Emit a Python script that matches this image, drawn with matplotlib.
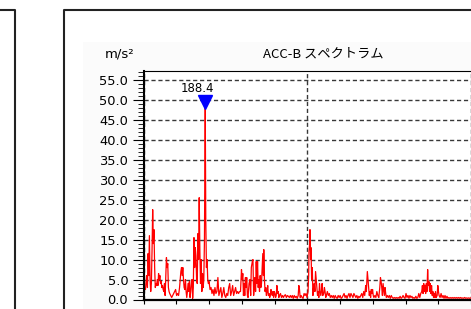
import matplotlib
matplotlib.use('agg')
import matplotlib.pyplot as plt
from matplotlib.ticker import MultipleLocator, FixedLocator
from matplotlib.lines import Line2D
from matplotlib.patches import Rectangle

# spectrum (Hz, m/s^2)
freq_hz = [0, 3, 6, 8, 10, 12, 14, 16, 18, 20, 22, 24, 26, 28, 30, 32, 34, 36, 38, 40,
           42, 44, 46, 48, 50, 52, 54, 56, 58, 60, 62, 64, 66, 68, 70, 72, 74, 76, 78, 80,
           83, 86, 89, 92, 95, 98, 101, 104, 107, 110, 112, 114, 116, 118, 120, 122, 124, 126, 128, 130,
           132, 134, 136, 138, 140, 142, 144, 146, 148, 150, 152, 154, 156, 158, 160, 162, 164, 166, 168, 170,
           172, 174, 176, 178, 180, 182, 184, 186, 188.4, 190, 192, 194, 196, 198, 200, 203, 206, 209, 212, 215,
           218, 221, 224, 227, 230, 233, 236, 239, 242, 245, 248, 251, 254, 257, 260, 263, 266, 269, 272, 275,
           278, 281, 284, 287, 290, 293, 296, 299, 301, 303, 305, 307, 309, 311, 313, 315, 317, 319, 322, 325,
           327, 329, 332, 334, 336, 338, 340, 342, 344, 346, 348, 350, 352, 354, 356, 358, 360, 362, 364, 366,
           367, 369, 371, 373, 375, 377, 379, 381, 383, 385, 387, 389, 391, 393, 395, 397, 399, 401, 403, 405,
           407, 409, 411, 413, 415, 418, 421, 424, 427, 430, 433, 436, 439, 442, 445, 448, 451, 454, 457, 460,
           463, 466, 469, 472, 474, 476, 478, 481, 484, 487, 490, 493, 496, 499, 502, 504, 505, 507, 508, 510,
           511, 513, 515, 517, 519, 521, 523, 525, 527, 529, 531, 533, 535, 537, 539, 541, 543, 545, 547, 550,
           552, 554, 556, 558, 561, 564, 567, 570, 573, 576, 579, 582, 585, 588, 591, 594, 597, 600, 603, 606,
           609, 612, 615, 618, 621, 624, 627, 630, 633, 636, 639, 642, 645, 648, 651, 654, 657, 660, 663, 666,
           669, 672, 675, 678, 680, 683, 685, 687, 689, 691, 693, 695, 697, 699, 701, 703, 706, 709, 712, 715,
           718, 721, 723, 725, 727, 729, 731, 733, 735, 737, 739, 741, 744, 747, 750, 753, 756, 759, 762, 765,
           768, 771, 774, 777, 780, 783, 786, 789, 792, 795, 798, 801, 804, 807, 810, 813, 816, 819, 822, 825,
           828, 831, 834, 837, 840, 843, 846, 849, 851, 853, 855, 857, 859, 861, 863, 865, 867, 869, 871, 873,
           875, 877, 879, 881, 883, 885, 887, 889, 891, 893, 896, 898, 900, 902, 905, 908, 911, 914, 917, 920,
           923, 926, 929, 932, 935, 938, 941, 944, 947, 950, 953, 956, 959, 962, 965, 968, 971, 974, 977, 980,
           983, 986, 989, 992, 995, 998, 1001, 1004]
accel = [2.5, 2.8, 2.5, 4.5, 6, 3, 11.5, 6, 16, 5, 2, 4, 12, 22.5, 14, 17.5, 8, 3, 4, 3.5,
         5, 3.5, 6.5, 5, 6, 4, 4.5, 3, 3.5, 2.5, 2, 4, 1, 6, 10.5, 8, 9, 3, 2, 1.5,
         1, 0.5, 1, 1.5, 2, 2.5, 1, 1.5, 1, 3, 5, 7, 8, 6, 8, 5, 3, 2.5, 5, 2,
         0.5, 2, 4, 2, 4.5, 0.5, 2, 4.5, 5, 0.3, 3, 15.5, 8, 13, 11, 5, 4, 16.5, 10, 25.5,
         12, 4, 10, 2, 6.5, 3, 5, 15, 48.5, 20, 8, 10, 5, 4, 4.5, 2.5, 3, 1.5, 2.5, 1,
         3, 1.5, 2, 5.5, 1, 2, 3, 0.5, 1.5, 3, 1, 0.5, 1.5, 1, 3, 4, 1, 2, 3.5, 1,
         2, 3, 1.5, 2, 1.5, 2, 2, 7.5, 5, 6.5, 1, 4, 1, 5.5, 3, 5.5, 1, 0.5, 4, 5,
         1, 8, 9.5, 10, 1, 3, 5.5, 2, 9.5, 4, 9.5, 3, 5, 2, 6, 3, 4, 8, 11.5, 6,
         12.5, 5, 2, 3, 1, 2, 3.5, 1, 1.5, 0.5, 1, 2.5, 1.5, 1, 2, 0.5, 2, 1.5, 0.5, 1,
         3.5, 1.5, 2, 0.5, 1, 1.5, 0.5, 1, 0.5, 1, 1.2, 0.5, 1, 0.8, 0.5, 1, 0.5, 1, 0.3, 1,
         0.5, 0.8, 0.3, 1, 3.5, 2.5, 0.5, 1, 0.5, 0.3, 1.5, 1, 1.5, 0.5, 2, 6, 12, 14, 17.5, 10,
         13, 5, 8, 1, 3, 4, 2, 7, 5, 3, 1, 2, 0.5, 4, 2, 1, 2, 4, 1, 1.5,
         3, 2, 0.5, 1, 2, 1, 1.5, 0.5, 1, 0.5, 1, 0.3, 1, 0.5, 0.3, 1, 0.5, 1, 0.3, 0.5,
         1, 1.5, 0.5, 1, 0.3, 1, 1.5, 0.5, 1.5, 1, 0.5, 1.5, 1, 0.5, 1, 0.3, 0.8, 0.5, 1, 1.5,
         0.5, 2, 1, 3.5, 2, 7, 5, 3, 1, 2, 0.5, 2.5, 1.5, 2.5, 1, 0.5, 1, 0.5, 2, 1,
         0.5, 3, 5.5, 4.5, 3, 1, 4, 2.5, 1, 3, 1.5, 0.5, 1, 0.5, 1, 0.3, 1, 0.5, 0.3, 0.5,
         0.3, 0.5, 0.3, 0.5, 0.3, 0.8, 0.3, 0.5, 1, 0.5, 0.3, 1.5, 0.5, 1, 0.3, 1, 0.5, 0.8, 0.3, 0.5,
         0.3, 0.8, 0.3, 0.5, 1.5, 0.5, 1.5, 2, 3.5, 1.5, 4, 2, 3.5, 1.5, 4, 2, 7.5, 3.5, 4.5, 2,
         4, 1.5, 3.5, 1, 2, 0.5, 1.5, 0.5, 2, 0.5, 1, 3.5, 2, 1, 0.5, 1.5, 0.5, 1, 0.3, 1,
         0.3, 0.8, 0.3, 0.5, 0.3, 0.5, 0.3, 0.5, 0.3, 0.5, 0.3, 0.5, 0.3, 0.5, 0.3, 0.5, 0.3, 0.4, 0.3, 0.5,
         0.3, 0.4, 0.3, 0.4, 0.3, 0.4, 0.3, 0.4]

peak_freq = 188.4
peak_marker_y = 49.5
peak_label = "188.4"
title = "ACC-B スペクトラム"
unit_label = "m/s²"
x_labels = [0, 500, 1000]

W, H = 471, 309
fig = plt.figure(figsize=(W / 100, H / 100), dpi=100)


def fx(px):
    return px / W


def fy(py):
    return 1 - py / H


# window frames and faint panel background
fig.add_artist(Rectangle((fx(83), 0), 1 - fx(83), fy(42), facecolor='#fbfbfb',
                         edgecolor='none', transform=fig.transFigure, zorder=-5))
fig.add_artist(Line2D([fx(0), fx(15), fx(15)], [fy(10), fy(10), 0], color='#222222', lw=1.5))
fig.add_artist(Line2D([1, fx(63.5), fx(63.5)], [fy(10), fy(10), 0], color='#222222', lw=1.5))

ax = fig.add_axes([fx(143.5), fy(299.5), (504 - 143.5) / W, (299.5 - 70.7) / H])
ax.set_facecolor('white')
ax.plot(freq_hz, accel, color='#ff0000', lw=0.9)
ax.set_xlim(0, 1100)
ax.set_ylim(0, 57.3)

ax.yaxis.set_major_locator(MultipleLocator(5))
ax.yaxis.set_minor_locator(MultipleLocator(1))
ax.yaxis.set_major_formatter('{x:.1f}')
ax.xaxis.set_major_locator(FixedLocator(x_labels))
ax.xaxis.set_minor_locator(MultipleLocator(100))
ax.xaxis.set_major_formatter('{x:.1f}')

ax.grid(True, which='major', color='#383838', lw=1.0, linestyle=(0, (3, 2)))
ax.spines['right'].set_visible(False)
ax.spines['top'].set_linewidth(0.8)
ax.spines['left'].set_linewidth(1.5)
ax.spines['bottom'].set_linewidth(1.6)

ax.tick_params(axis='y', which='major', length=8, width=0.8, pad=3, labelsize=9.4)
ax.tick_params(axis='y', which='minor', length=4.3, width=0.6)
ax.tick_params(axis='x', which='both', length=3, width=0.8, pad=3, labelsize=9.4)

ax.plot([peak_freq], [peak_marker_y], marker='v', color='#0000ff', ms=10, clip_on=False)
ax.annotate(peak_label, (peak_freq, peak_marker_y), xytext=(-8, 13), textcoords='offset pixels',
            ha='center', va='center', fontsize=8.5)

fig.text(fx(323), fy(53.5), title, ha='center', va='center', fontsize=9.5,
         family=['Noto Sans CJK JP', 'DejaVu Sans'])
fig.text(fx(120), fy(54), unit_label, ha='center', va='center', fontsize=9.5)

fig.savefig('out.png', dpi=100)
